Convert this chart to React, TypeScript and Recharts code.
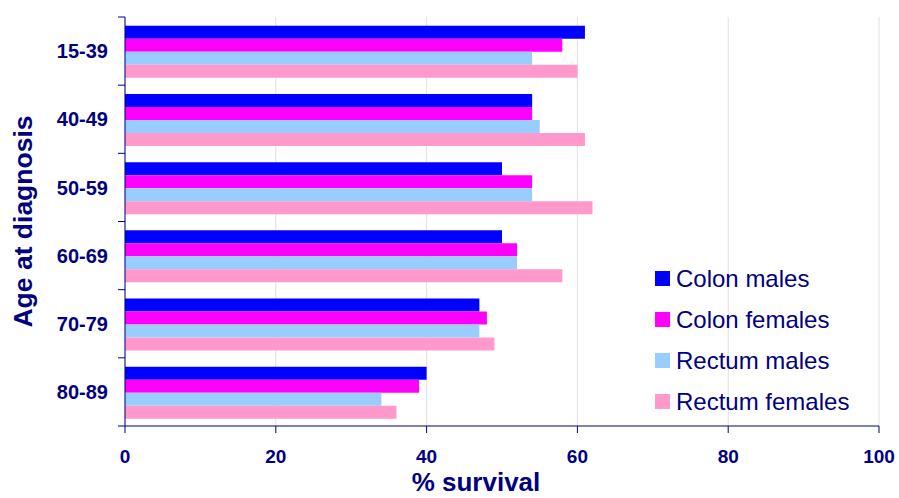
import React from "react";
import {
  Bar,
  BarChart,
  CartesianGrid,
  Legend,
  XAxis,
  YAxis,
} from "recharts";

const ageGroups = ["15-39", "40-49", "50-59", "60-69", "70-79", "80-89"];
const colonMales = [61, 54, 50, 50, 47, 40];
const colonFemales = [58, 54, 54, 52, 48, 39];
const rectumMales = [54, 55, 54, 52, 47, 34];
const rectumFemales = [60, 61, 62, 58, 49, 36];
const xTicks = [0, 20, 40, 60, 80, 100];

const series = [
  { key: "colonMales", name: "Colon males", color: "#0000FF" },
  { key: "colonFemales", name: "Colon females", color: "#FF00FF" },
  { key: "rectumMales", name: "Rectum males", color: "#99CCFF" },
  { key: "rectumFemales", name: "Rectum females", color: "#FF99CC" },
];

const data = ageGroups.map((age, i) => ({
  age,
  colonMales: colonMales[i],
  colonFemales: colonFemales[i],
  rectumMales: rectumMales[i],
  rectumFemales: rectumFemales[i],
}));

const NAVY = "#000080";
const FONT = "'Liberation Sans', Arial, sans-serif";

// category tick: label plus tick marks on the band boundaries
const AgeTick = (props: any) => {
  const { x, y, payload, index } = props;
  const half = payload.offset ?? 0;
  const axisX = x + 17;
  return (
    <g>
      <line x1={axisX - 7} x2={axisX} y1={y - half} y2={y - half} stroke={NAVY} />
      {index === ageGroups.length - 1 && (
        <line x1={axisX - 7} x2={axisX} y1={y + half} y2={y + half} stroke={NAVY} />
      )}
      <text
        x={x}
        y={y}
        dy="0.36em"
        textAnchor="end"
        fill={NAVY}
        fontSize={20}
        fontWeight="bold"
        fontFamily={FONT}
      >
        {payload.value}
      </text>
    </g>
  );
};

const renderLegend = () => (
  <div style={{ fontFamily: FONT, color: NAVY, fontSize: 24 }}>
    {series.map((s) => (
      <div
        key={s.key}
        style={{ display: "flex", alignItems: "center", height: 41 }}
      >
        <span
          style={{
            display: "inline-block",
            width: 15,
            height: 15,
            background: s.color,
            marginRight: 6,
          }}
        />
        <span>{s.name}</span>
      </div>
    ))}
  </div>
);

export default function App() {
  return (
    <div style={{ position: "absolute", left: 0, top: 0, background: "#fff" }}>
      <BarChart
        width={899}
        height={498}
        data={data}
        layout="vertical"
        margin={{ top: 17, right: 20, bottom: 0, left: 0 }}
        barCategoryGap="13%"
        barGap={0}
      >
        <CartesianGrid horizontal={false} stroke="#e0e0e0" />
        <XAxis
          type="number"
          domain={[0, 100]}
          ticks={xTicks}
          height={72}
          stroke={NAVY}
          tickSize={7}
          tickMargin={17}
          tick={{ fill: NAVY, fontSize: 19, fontWeight: "bold", fontFamily: FONT }}
          label={{
            content: (p: any) => (
              <text
                x={p.viewBox.x + p.viewBox.width / 2 - 26}
                y={p.viewBox.y + p.viewBox.height - 7}
                textAnchor="middle"
                fill={NAVY}
                fontSize={26}
                fontWeight="bold"
                fontFamily={FONT}
              >
                % survival
              </text>
            ),
          }}
        />
        <YAxis
          type="category"
          dataKey="age"
          width={125}
          stroke={NAVY}
          tickLine={false}
          tickSize={7}
          tickMargin={10}
          tick={<AgeTick />}
          label={{
            content: (p: any) => {
              const cx = p.viewBox.x + 32;
              const cy = p.viewBox.y + p.viewBox.height / 2;
              return (
                <text
                  x={cx}
                  y={cy}
                  transform={`rotate(-90, ${cx}, ${cy})`}
                  textAnchor="middle"
                  fill={NAVY}
                  fontSize={26.5}
                  fontWeight="bold"
                  fontFamily={FONT}
                >
                  Age at diagnosis
                </text>
              );
            },
          }}
        />
        <Legend
          layout="vertical"
          align="center"
          verticalAlign="middle"
          content={renderLegend}
          wrapperStyle={{ left: 655, top: 258, width: 240 }}
        />
        {series.map((s) => (
          <Bar
            key={s.key}
            dataKey={s.key}
            name={s.name}
            fill={s.color}
            isAnimationActive={false}
          />
        ))}
      </BarChart>
    </div>
  );
}
